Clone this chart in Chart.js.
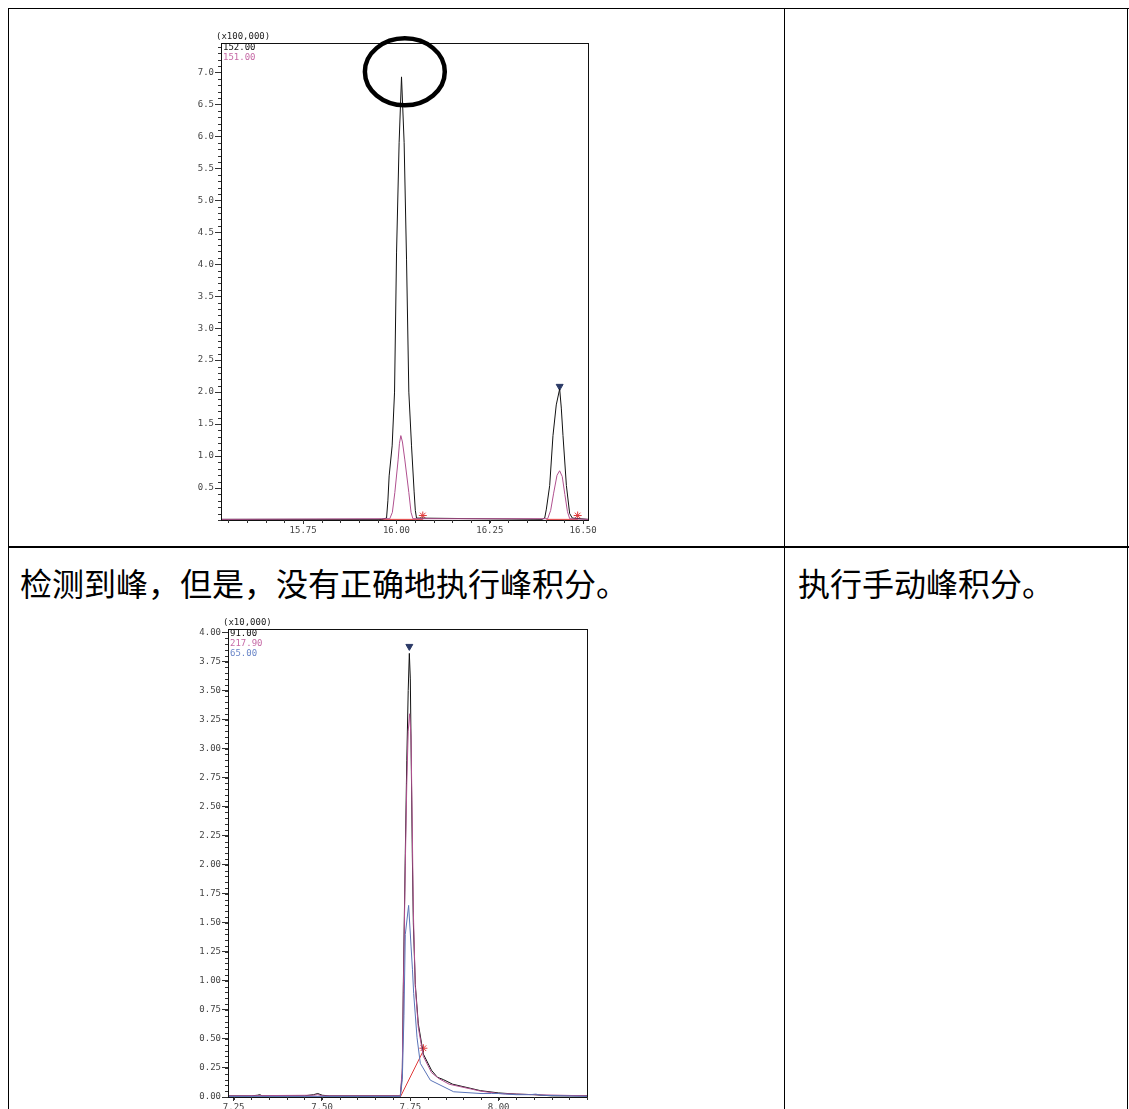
<!DOCTYPE html>
<html>
<head>
<meta charset="utf-8">
<script src="https://cdn.jsdelivr.net/npm/chart.js@4.4.1/dist/chart.umd.min.js"></script>
<style>
    body { margin: 0; background: #fff; }
    #page { position: relative; width: 1129px; height: 1109px; overflow: hidden; }
    .line { position: absolute; background: #000; }
    .cell-text { position: absolute; font-family: "Noto Sans CJK SC", sans-serif; font-size: 32px; line-height: 32px; color: #000; white-space: nowrap; }
    canvas { position: absolute; }
</style>
</head>
<body>
<div id="page">
    <div class="line" style="left:8px;top:8px;width:1121px;height:1px"></div>
    <div class="line" style="left:8px;top:8px;width:1px;height:1110px"></div>
    <div class="line" style="left:784px;top:8px;width:1px;height:1110px"></div>
    <div class="line" style="left:1127px;top:8px;width:1px;height:1110px"></div>
    <div class="line" style="left:8px;top:546px;width:1121px;height:2px"></div>

    <div class="cell-text" style="left:20px;top:566px">检测到峰，但是，没有正确地执行峰积分。</div>
    <div class="cell-text" style="left:798px;top:566px">执行手动峰积分。</div>

    <canvas id="PeakChart1" width="460" height="530" style="left:150px;top:20px"></canvas>
    <canvas id="PeakChart2" width="460" height="512" style="left:150px;top:600px"></canvas>
</div>

<script>
// ---- chart 1 (x100,000) ----
const rt1Black = [15.53, 15.96, 15.9734, 15.977, 15.9804, 15.9884, 15.9948, 16.0002, 16.0071, 16.0135, 16.0205, 16.0269, 16.0331, 16.0403, 16.0473, 16.0505, 16.0537,
    16.39, 16.397, 16.4015, 16.4104, 16.4192, 16.428, 16.4371, 16.4415, 16.446, 16.4551, 16.4639, 16.4711, 16.513];
const int1Black = [0.01, 0.01, 0.03, 0.3, 0.69, 1.16, 2.0, 4.19, 5.9, 6.93, 5.9, 4.08, 2.0, 1.16, 0.44, 0.15, 0.03,
    0.01, 0.03, 0.17, 0.54, 1.32, 1.8, 2.05, 1.75, 1.32, 0.54, 0.1, 0.03, 0.01];
const rt1Magenta = [15.53, 15.982, 15.989, 15.9956, 16.0044, 16.008, 16.0117, 16.016, 16.0224, 16.0331, 16.039, 16.044,
    16.405, 16.413, 16.421, 16.43, 16.437, 16.444, 16.451, 16.458, 16.464, 16.513];
const int1Magenta = [0.01, 0.02, 0.12, 0.43, 0.94, 1.2, 1.32, 1.22, 0.94, 0.43, 0.12, 0.02,
    0.02, 0.15, 0.42, 0.7, 0.77, 0.68, 0.4, 0.13, 0.02, 0.01];
const rt1Base = [15.955, 16.0705, 16.2, 16.4015, 16.4853];
const int1Base = [0.01, 0.01, null, 0.01, 0.01];
const rt1Ends = [16.0705, 16.4853];
const int1Ends = [0.07, 0.07];
const rt1Top = [16.4371];
const int1Top = [2.09];
const xTicks1 = [15.75, 16.00, 16.25, 16.50];
const yTicks1 = [0.5, 1.0, 1.5, 2.0, 2.5, 3.0, 3.5, 4.0, 4.5, 5.0, 5.5, 6.0, 6.5, 7.0];
const channels1 = ["152.00", "151.00"];

// ---- chart 2 (x10,000) ----
const rt2Black = [7.234, 7.30, 7.317, 7.324, 7.331, 7.45, 7.476, 7.488, 7.501, 7.52, 7.7217, 7.7273, 7.7302, 7.7358, 7.74, 7.744, 7.7472, 7.75, 7.753,
    7.7556, 7.7585, 7.7641, 7.7726, 7.7868, 7.81, 7.8264, 7.8434, 7.87, 7.92, 7.948, 8.0, 8.05, 8.1, 8.15, 8.25];
const int2Black = [0.01, 0.01, 0.015, 0.02, 0.01, 0.01, 0.02, 0.03, 0.015, 0.01, 0.01, 0.2, 0.97, 2.1, 2.9, 3.5, 3.82, 3.6, 2.8,
    2.1, 1.5, 0.97, 0.63, 0.37, 0.23, 0.17, 0.15, 0.11, 0.075, 0.055, 0.035, 0.025, 0.02, 0.01, 0.01];
const rt2Magenta = [7.234, 7.476, 7.488, 7.501, 7.7217, 7.7273, 7.7302, 7.7358, 7.74, 7.744, 7.748, 7.752, 7.7556, 7.7585, 7.7641,
    7.7726, 7.7868, 7.81, 7.83, 7.86, 7.92, 7.95, 8.0, 8.1, 8.25];
const int2Magenta = [0.01, 0.015, 0.02, 0.01, 0.01, 0.25, 0.9, 2.0, 2.7, 3.15, 3.3, 3.1, 2.3, 1.6, 0.95,
    0.6, 0.35, 0.21, 0.16, 0.11, 0.07, 0.05, 0.03, 0.02, 0.01];
const rt2Blue = [7.234, 7.7217, 7.7273, 7.732, 7.7358, 7.7452, 7.752, 7.756, 7.7595, 7.769, 7.7783, 7.8066, 7.8727, 7.95, 7.98, 8.0,
    8.019, 8.05, 8.09, 8.105, 8.12, 8.25];
const int2Blue = [0.005, 0.005, 0.15, 0.7, 1.4, 1.65, 1.3, 1.1, 0.89, 0.51, 0.29, 0.145, 0.045, 0.03, 0.03, 0.03,
    0.025, 0.02, 0.02, 0.025, 0.015, 0.005];
const rt2Base = [7.7217, 7.787];
const int2Base = [0.0, 0.40];
const rt2Ends = [7.787];
const int2Ends = [0.42];
const rt2Top = [7.7472];
const int2Top = [3.88];
const xTicks2 = [7.25, 7.50, 7.75, 8.00];
const yTicks2 = [0.00, 0.25, 0.50, 0.75, 1.00, 1.25, 1.50, 1.75, 2.00, 2.25, 2.50, 2.75, 3.00, 3.25, 3.50, 3.75, 4.00];
const channels2 = ["91.00", "217.90", "65.00"];

const BLACK = "#111111";
const MAGENTA = "#b0508f";
const BLUE = "#5a74b8";
const RED = "#e03a3a";
const NAVY = "#2b3a67";
const TICK_FONT = { family: "DejaVu Sans Mono", size: 9 };

function pts(xs, ys) {
    return xs.map((x, i) => ({ x: x, y: ys[i] }));
}

function trace(xs, ys, color) {
    return {
        data: pts(xs, ys),
        showLine: true,
        borderColor: color,
        borderWidth: 1,
        pointRadius: 0,
        tension: 0,
        spanGaps: false,
    };
}

function marker(xs, ys, color, style, rotation) {
    return {
        data: pts(xs, ys),
        showLine: false,
        pointStyle: style,
        rotation: rotation || 0,
        pointRadius: 4,
        borderColor: color,
        backgroundColor: color,
        borderWidth: 1,
    };
}

// frame box, minor ticks, header labels and the hand-drawn ring
const chromPlugin = {
    id: "chrom",
    afterDraw(chart, args, opts) {
        const { ctx, chartArea: a, scales } = chart;
        ctx.save();
        ctx.strokeStyle = "#111";
        ctx.lineWidth = 1;
        ctx.strokeRect(Math.round(a.left) + 0.5, Math.round(a.top) + 0.5, Math.round(a.right - a.left), Math.round(a.bottom - a.top));

        ctx.strokeStyle = "#333";
        const ys = scales.y;
        for (let i = Math.ceil(ys.min / opts.yMinor); i * opts.yMinor <= ys.max; i++) {
            const py = Math.round(ys.getPixelForValue(i * opts.yMinor)) + 0.5;
            ctx.beginPath();
            ctx.moveTo(a.left - 3, py);
            ctx.lineTo(a.left, py);
            ctx.stroke();
        }
        const xs = scales.x;
        for (let i = Math.ceil(xs.min / opts.xMinor); i * opts.xMinor <= xs.max; i++) {
            const px = Math.round(xs.getPixelForValue(i * opts.xMinor)) + 0.5;
            ctx.beginPath();
            ctx.moveTo(px, a.bottom);
            ctx.lineTo(px, a.bottom + 3);
            ctx.stroke();
        }

        ctx.font = '9px "DejaVu Sans Mono"';
        ctx.textBaseline = "middle";
        ctx.textAlign = "left";
        ctx.fillStyle = "#222";
        ctx.fillText(opts.note, a.left - 5, a.top - 6);
        opts.channels.forEach((name, i) => {
            ctx.fillStyle = opts.colors[i];
            ctx.fillText(name, a.left + 2, a.top + 5 + i * 10);
        });

        if (opts.ring) {
            const r = opts.ring;
            const cx = xs.getPixelForValue(r.x);
            const cy = ys.getPixelForValue(r.y);
            const rx = Math.abs(xs.getPixelForValue(r.x + r.rx) - cx);
            const ry = Math.abs(ys.getPixelForValue(r.y + r.ry) - cy);
            ctx.strokeStyle = "#000";
            ctx.lineWidth = 4.5;
            ctx.beginPath();
            ctx.ellipse(cx, cy, rx, ry, 0, 0, Math.PI * 2);
            ctx.stroke();
        }
        ctx.restore();
    },
};

function axisOptions(min, max, tickList, decimals, isY, size) {
    return {
        type: "linear",
        min: min,
        max: max,
        afterBuildTicks: (s) => { s.ticks = tickList.map((v) => ({ value: v })); },
        afterFit: (s) => {
            if (isY) { s.width = size; s.paddingTop = 0; s.paddingBottom = 0; }
            else { s.height = size; s.paddingLeft = 0; s.paddingRight = 0; }
        },
        ticks: {
            autoSkip: false,
            maxRotation: 0,
            padding: 1,
            color: "#444",
            font: TICK_FONT,
            callback: (v) => Number(v).toFixed(decimals),
        },
        grid: {
            drawOnChartArea: false,
            drawTicks: true,
            tickLength: isY ? 6 : 4,
            color: "#333",
        },
        border: { display: true, color: "#111", width: 1 },
    };
}

function PeakChart1() {
    const ctx = document.getElementById("PeakChart1");
    new Chart(ctx, {
        type: "scatter",
        data: {
            datasets: [
                trace(rt1Magenta, int1Magenta, MAGENTA),
                trace(rt1Black, int1Black, BLACK),
                trace(rt1Base, int1Base, RED),
                marker(rt1Ends, int1Ends, RED, "star"),
                marker(rt1Top, int1Top, NAVY, "triangle", 180),
            ],
        },
        options: {
            responsive: false,
            animation: false,
            layout: { padding: { top: 23, right: 22, bottom: 10, left: 0 } },
            plugins: {
                legend: { display: false },
                tooltip: { enabled: false },
                chrom: {
                    note: "(x100,000)",
                    channels: channels1,
                    colors: [BLACK, "#c66aa6"],
                    xMinor: 0.05,
                    yMinor: 0.1,
                    ring: { x: 16.0224, y: 7.01, rx: 0.107, ry: 0.523 },
                },
            },
            scales: {
                x: axisOptions(15.53, 16.513, xTicks1, 2, false, 20),
                y: axisOptions(0, 7.46, yTicks1, 1, true, 71),
            },
        },
        plugins: [chromPlugin],
    });
}

function PeakChart2() {
    const ctx = document.getElementById("PeakChart2");
    new Chart(ctx, {
        type: "scatter",
        data: {
            datasets: [
                trace(rt2Blue, int2Blue, BLUE),
                trace(rt2Magenta, int2Magenta, MAGENTA),
                trace(rt2Black, int2Black, BLACK),
                trace(rt2Base, int2Base, RED),
                marker(rt2Ends, int2Ends, RED, "star"),
                marker(rt2Top, int2Top, NAVY, "triangle", 180),
            ],
        },
        options: {
            responsive: false,
            animation: false,
            layout: { padding: { top: 29, right: 23, bottom: 0, left: 0 } },
            plugins: {
                legend: { display: false },
                tooltip: { enabled: false },
                chrom: {
                    note: "(x10,000)",
                    channels: channels2,
                    colors: [BLACK, "#c66aa6", "#6a86c8"],
                    xMinor: 0.05,
                    yMinor: 0.05,
                },
            },
            scales: {
                x: axisOptions(7.234, 8.25, xTicks2, 2, false, 15),
                y: axisOptions(0, 4.03, yTicks2, 2, true, 78),
            },
        },
        plugins: [chromPlugin],
    });
}

PeakChart1();
PeakChart2();
</script>
</body>
</html>
